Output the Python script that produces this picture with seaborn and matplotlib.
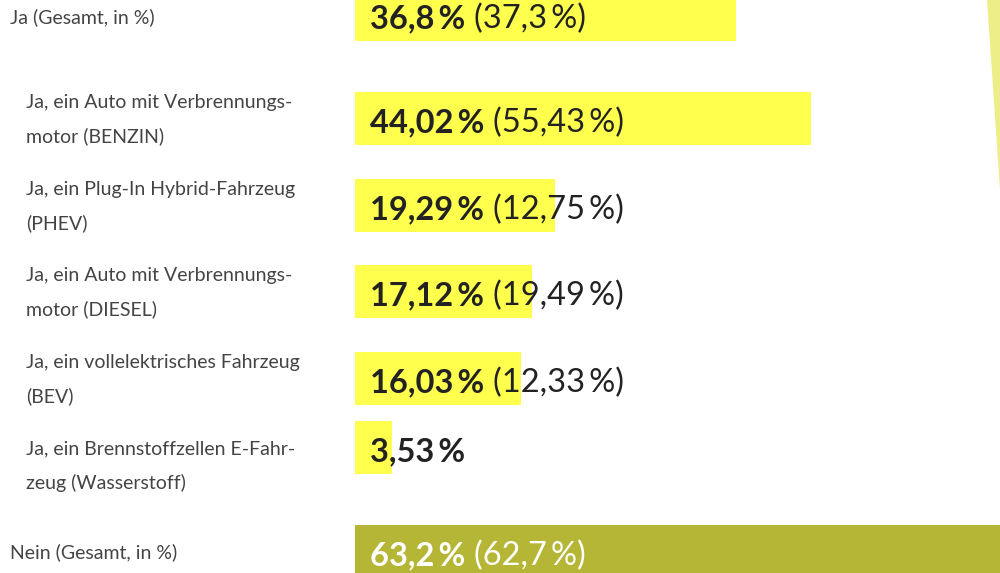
import matplotlib
matplotlib.use("Agg")
import numpy as np
import pandas as pd
import matplotlib.pyplot as plt
import matplotlib.transforms as mtransforms
from matplotlib.patches import Polygon
import seaborn as sns

# chart data
categories = [
    "Ja (Gesamt, in %)",
    "Ja, ein Auto mit Verbrennungs-\nmotor (BENZIN)",
    "Ja, ein Plug-In Hybrid-Fahrzeug\n(PHEV)",
    "Ja, ein Auto mit Verbrennungs-\nmotor (DIESEL)",
    "Ja, ein vollelektrisches Fahrzeug\n(BEV)",
    "Ja, ein Brennstoffzellen E-Fahr-\nzeug (Wasserstoff)",
    "Nein (Gesamt, in %)",
]
values = [36.8, 44.02, 19.29, 17.12, 16.03, 3.53, 63.2]
prev_values = [37.3, 55.43, 12.75, 19.49, 12.33, None, 62.7]
decimals = [1, 2, 2, 2, 2, 2, 1]
groups = ["Ja", "Ja", "Ja", "Ja", "Ja", "Ja", "Nein"]

# layout (pixel rows from top of the image)
row_pos = [14.5, 118.5, 205.5, 291.5, 378.5, 447.5, 551.5]
label_shift = [2.5, 1.5, 1.5, 1.5, 1.5, 18.5, 0.5]
label_x = [10, 26, 26, 26, 26, 26, 10]
px_per_pct = 10.35

YELLOW = "#ffff4d"
OLIVE = "#b5b536"


def fmt(v, d):
    return f"{v:.{d}f}".replace(".", ",") + "\u2009%"


df = pd.DataFrame({"label": categories, "value": values,
                   "group": groups, "pos": row_pos})

sns.set_style("white")
plt.rcParams["font.family"] = ["Lato", "DejaVu Sans"]

fig = plt.figure(figsize=(10, 5.73), dpi=100)
fig.patch.set_facecolor("white")
ax = fig.add_axes([0.355, 0, 0.645, 1])

sns.barplot(data=df, x="value", y="pos", hue="group", orient="h",
            native_scale=True, dodge=False, width=53 / 69, saturation=1,
            palette={"Ja": YELLOW, "Nein": OLIVE}, errorbar=None,
            legend=False, ax=ax, linewidth=0)

ax.set_xlim(0, 645 / px_per_pct)
ax.set_ylim(573, 0)
ax.axis("off")

# decorative streak top right
fig.patches.append(Polygon([[0.987, 1.0], [1.0, 1.0], [1.0, 1 - 190 / 573]],
                           closed=True, transform=fig.transFigure,
                           facecolor="#eeee88", edgecolor="none", zorder=0))

# category labels on the left
lab_tr = mtransforms.blended_transform_factory(fig.transFigure, ax.transData)
for lab, y, dy, lx in zip(categories, row_pos, label_shift, label_x):
    ax.text(lx / 1000, y + dy, lab, transform=lab_tr, ha="left", va="center",
            fontsize=14, color="#444444", linespacing=2.08)

# value labels inside the bars
fig.canvas.draw()
renderer = fig.canvas.get_renderer()
for v, pv, d, g, y in zip(values, prev_values, decimals, groups, row_pos):
    col = "white" if g == "Nein" else "#222222"
    t = ax.annotate(fmt(v, d), xy=(0, y + 13.5), xytext=(15 * 0.72, 0),
                    textcoords="offset points", ha="left", va="baseline",
                    fontsize=23.5, fontweight="bold", color=col)
    if pv is not None:
        bb = t.get_window_extent(renderer)
        x1 = ax.transData.inverted().transform((bb.x1, bb.y0))[0]
        ax.annotate("(" + fmt(pv, d) + ")", xy=(x1, y + 13.5),
                    xytext=(9 * 0.72, 0), textcoords="offset points",
                    ha="left", va="baseline", fontsize=23.5, color=col)

fig.savefig("out.png", dpi=100, facecolor="white")
